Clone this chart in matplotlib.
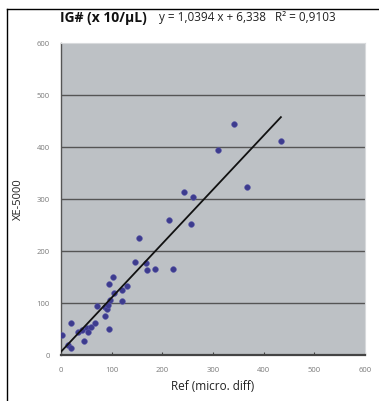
import matplotlib.pyplot as plt
from matplotlib.lines import Line2D

plt.rcParams['font.family'] = ['Open Sans', 'DejaVu Sans']

# Ref (micro. diff) vs XE-5000, IG# (x 10/uL)
ref_x = [2, 14, 20, 20, 34, 42, 46, 51, 53, 59, 67, 71, 87, 91, 93, 87, 95,
         97, 105, 121, 121, 131, 95, 103, 147, 154, 168, 170, 186, 222,
         214, 257, 242, 261, 309, 368, 341, 434]
xe_y = [38, 19, 13, 62, 44, 48, 27, 52, 44, 54, 62, 94, 92, 88, 96, 75, 50,
        106, 119, 104, 125, 133, 137, 150, 179, 225, 177, 163, 165, 165,
        260, 252, 313, 304, 394, 323, 444, 412]

slope = 1.0394
intercept = 6.338
r2 = 0.9103
ticks = [0, 100, 200, 300, 400, 500, 600]

fig = plt.figure(figsize=(3.79, 4.01), dpi=100)
fig.patch.set_facecolor('white')
ax = fig.add_axes([61 / 379, 46 / 401, 304 / 379, 312 / 401])
ax.set_facecolor('#bdc1c5')

# gridlines
for t in ticks[1:-1]:
    ax.axhline(t, color='#555555', linewidth=1.0, zorder=1)

ax.scatter(ref_x, xe_y, s=17, color='#3d3b8e', edgecolors='#5a58a8',
           linewidths=0.4, zorder=3)

x_end = max(ref_x)
ax.plot([0, x_end], [intercept, slope * x_end + intercept],
        color='#111111', linewidth=1.3, zorder=4)

ax.set_xlim(0, 600)
ax.set_ylim(0, 600)
ax.set_xticks(ticks)
ax.set_yticks(ticks)
ax.tick_params(axis='both', labelsize=5.5, colors='#444444', labelcolor='#7a7a7a',
               length=2, direction='in')
ax.tick_params(axis='x', pad=9)
ax.tick_params(axis='y', pad=8, length=0)

for side in ['top', 'right']:
    ax.spines[side].set_color('#d8dadc')
    ax.spines[side].set_linewidth(0.8)
ax.spines['left'].set_color('#555555')
ax.spines['left'].set_linewidth(1.0)
ax.spines['bottom'].set_color('#444444')
ax.spines['bottom'].set_linewidth(1.6)

ax.set_xlabel('Ref (micro. diff)', fontsize=8.5, color='#222222', labelpad=4)
ax.set_ylabel('XE-5000', fontsize=8, color='#222222', labelpad=9)

# title
fig.text(60 / 379, 1 - 18 / 401, 'IG# (x 10/µL)', fontsize=10,
         fontweight='bold', va='center', ha='left', color='#111111')
eq = f'y = {slope:.4f} x + {intercept:.3f}   R² = {r2:.4f}'.replace('.', ',')
fig.text(159 / 379, 1 - 18 / 401, eq, fontsize=8.5, va='center', ha='left',
         color='#222222')

# frame lines
fig.add_artist(Line2D([7 / 379, 7 / 379], [0, 1 - 9 / 401],
                      transform=fig.transFigure, color='black', linewidth=1))
fig.add_artist(Line2D([7 / 379, 1], [1 - 9 / 401, 1 - 9 / 401],
                      transform=fig.transFigure, color='black', linewidth=1))

fig.savefig('out.png', dpi=100, facecolor='white')
